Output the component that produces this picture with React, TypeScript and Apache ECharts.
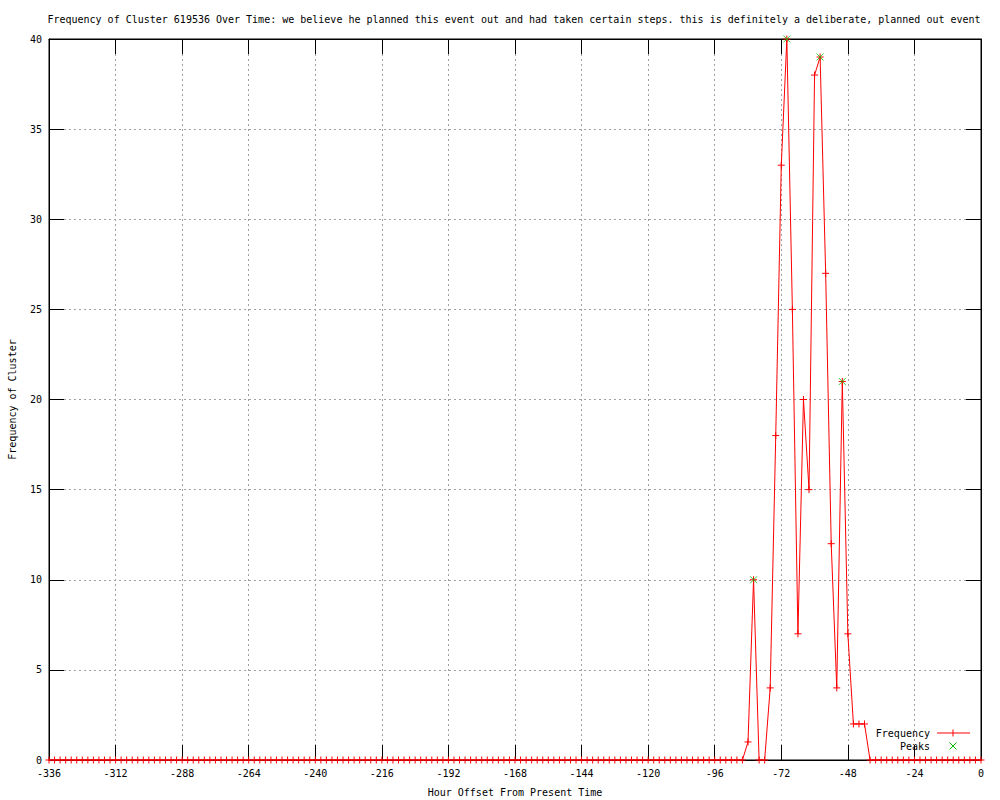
import React, { useEffect, useRef } from "react";
import * as echarts from "echarts";

const TITLE =
  "Frequency of Cluster 619536 Over Time: we believe he planned this event out and had taken certain steps. this is definitely a deliberate, planned out event";
const X_LABEL = "Hour Offset From Present Time";
const Y_LABEL = "Frequency of Cluster";
const LEGEND_FREQ = "Frequency";
const LEGEND_PEAKS = "Peaks";

const hours = [
  -336, -334, -332, -330, -328, -326, -324, -322, -320, -318, -316, -314,
  -312, -310, -308, -306, -304, -302, -300, -298, -296, -294, -292, -290,
  -288, -286, -284, -282, -280, -278, -276, -274, -272, -270, -268, -266,
  -264, -262, -260, -258, -256, -254, -252, -250, -248, -246, -244, -242,
  -240, -238, -236, -234, -232, -230, -228, -226, -224, -222, -220, -218,
  -216, -214, -212, -210, -208, -206, -204, -202, -200, -198, -196, -194,
  -192, -190, -188, -186, -184, -182, -180, -178, -176, -174, -172, -170,
  -168, -166, -164, -162, -160, -158, -156, -154, -152, -150, -148, -146,
  -144, -142, -140, -138, -136, -134, -132, -130, -128, -126, -124, -122,
  -120, -118, -116, -114, -112, -110, -108, -106, -104, -102, -100, -98,
  -96, -94, -92, -90, -88, -86, -84, -82, -80, -78, -76, -74,
  -72, -70, -68, -66, -64, -62, -60, -58, -56, -54, -52, -50,
  -48, -46, -44, -42, -40, -38, -36, -34, -32, -30, -28, -26,
  -24, -22, -20, -18, -16, -14, -12, -10, -8, -6, -4, -2,
  0,
];

const frequency = [
  0, 0, 0, 0, 0, 0, 0, 0, 0, 0, 0, 0,
  0, 0, 0, 0, 0, 0, 0, 0, 0, 0, 0, 0,
  0, 0, 0, 0, 0, 0, 0, 0, 0, 0, 0, 0,
  0, 0, 0, 0, 0, 0, 0, 0, 0, 0, 0, 0,
  0, 0, 0, 0, 0, 0, 0, 0, 0, 0, 0, 0,
  0, 0, 0, 0, 0, 0, 0, 0, 0, 0, 0, 0,
  0, 0, 0, 0, 0, 0, 0, 0, 0, 0, 0, 0,
  0, 0, 0, 0, 0, 0, 0, 0, 0, 0, 0, 0,
  0, 0, 0, 0, 0, 0, 0, 0, 0, 0, 0, 0,
  0, 0, 0, 0, 0, 0, 0, 0, 0, 0, 0, 0,
  0, 0, 0, 0, 0, 0, 1, 10, 0, 0, 4, 18,
  33, 40, 25, 7, 20, 15, 38, 39, 27, 12, 4, 21,
  7, 2, 2, 2, 0, 0, 0, 0, 0, 0, 0, 0,
  0, 0, 0, 0, 0, 0, 0, 0, 0, 0, 0, 0,
  0,
];

const peakHours = [-82, -70, -58, -50];
const peakValues = [10, 40, 39, 21];

const xTicks = [-336, -312, -288, -264, -240, -216, -192, -168, -144, -120, -96, -72, -48, -24, 0];
const yTicks = [0, 5, 10, 15, 20, 25, 30, 35, 40];

const FONT = "DejaVu Sans Mono";
const RED = "#ff0000";
const GREEN = "#00c000";
const PLUS = "path://M0 3.5L7 3.5M3.5 0L3.5 7";
const CROSS = "path://M0 0L7 7M7 0L0 7";

export default function App() {
  const ref = useRef<HTMLDivElement>(null);

  useEffect(() => {
    if (!ref.current) return;
    const chart = echarts.init(ref.current, undefined, { renderer: "svg" });

    const freqData = hours.map((h, i) => [h, frequency[i]]);
    const peakData = peakHours.map((h, i) => [h, peakValues[i]]);

    const xStep = xTicks[1] - xTicks[0];
    const yStep = yTicks[1] - yTicks[0];

    const labelStyle = { color: "#000", fontFamily: FONT, fontSize: 10 };
    const grid = {
      left: 49,
      top: 39,
      width: 932,
      height: 721,
      containLabel: false,
      outerBoundsMode: "none",
      show: true,
      borderColor: "#000",
      borderWidth: 1,
      backgroundColor: "transparent",
    };

    const splitLine = { show: true, lineStyle: { color: "#a0a0a0", type: [2, 3] as any, width: 1 } };

    chart.setOption({
      animation: false,
      backgroundColor: "#ffffff",
      grid,
      graphic: [
        {
          type: "text",
          x: 514,
          y: 19,
          style: { text: TITLE, fill: "#000", font: `10px ${FONT}`, textAlign: "center", textVerticalAlign: "middle" },
        },
        {
          type: "text",
          x: 930,
          y: 733,
          style: { text: LEGEND_FREQ, fill: "#000", font: `10px ${FONT}`, textAlign: "right", textVerticalAlign: "middle" },
        },
        {
          type: "line",
          shape: { x1: 937, y1: 733, x2: 970, y2: 733 },
          style: { stroke: RED, lineWidth: 1 },
        },
        {
          type: "line",
          shape: { x1: 953, y1: 729.5, x2: 953, y2: 736.5 },
          style: { stroke: RED, lineWidth: 1 },
        },
        {
          type: "text",
          x: 930,
          y: 746,
          style: { text: LEGEND_PEAKS, fill: "#000", font: `10px ${FONT}`, textAlign: "right", textVerticalAlign: "middle" },
        },
        {
          type: "line",
          shape: { x1: 949.5, y1: 742.5, x2: 956.5, y2: 749.5 },
          style: { stroke: GREEN, lineWidth: 1 },
        },
        {
          type: "line",
          shape: { x1: 956.5, y1: 742.5, x2: 949.5, y2: 749.5 },
          style: { stroke: GREEN, lineWidth: 1 },
        },
      ],
      xAxis: [
        {
          type: "value",
          min: xTicks[0],
          max: xTicks[xTicks.length - 1],
          interval: xStep,
          position: "bottom",
          name: X_LABEL,
          nameLocation: "middle",
          nameGap: 27,
          nameTextStyle: { color: "#000", fontFamily: FONT, fontSize: 10 },
          axisLine: { show: true, onZero: false, lineStyle: { color: "#000", width: 1 } },
          axisTick: { show: true, inside: true, length: 15, lineStyle: { color: "#000", width: 1 } },
          axisLabel: { ...labelStyle, margin: 8, showMinLabel: true, showMaxLabel: true },
          splitLine,
        },
        {
          type: "value",
          min: xTicks[0],
          max: xTicks[xTicks.length - 1],
          interval: xStep,
          position: "top",
          axisLine: { show: true, onZero: false, lineStyle: { color: "#000", width: 1 } },
          axisTick: { show: true, inside: true, length: 15, lineStyle: { color: "#000", width: 1 } },
          axisLabel: { show: false },
          splitLine: { show: false },
        },
      ],
      yAxis: [
        {
          type: "value",
          min: yTicks[0],
          max: yTicks[yTicks.length - 1],
          interval: yStep,
          position: "left",
          name: Y_LABEL,
          nameLocation: "middle",
          nameGap: 32,
          nameRotate: 90,
          nameTextStyle: { color: "#000", fontFamily: FONT, fontSize: 10 },
          axisLine: { show: true, onZero: false, lineStyle: { color: "#000", width: 1 } },
          axisTick: { show: true, inside: true, length: 15, lineStyle: { color: "#000", width: 1 } },
          axisLabel: { ...labelStyle, margin: 7, showMinLabel: true, showMaxLabel: true },
          splitLine,
        },
        {
          type: "value",
          min: yTicks[0],
          max: yTicks[yTicks.length - 1],
          interval: yStep,
          position: "right",
          axisLine: { show: true, onZero: false, lineStyle: { color: "#000", width: 1 } },
          axisTick: { show: true, inside: true, length: 15, lineStyle: { color: "#000", width: 1 } },
          axisLabel: { show: false },
          splitLine: { show: false },
        },
      ],
      series: [
        {
          name: LEGEND_FREQ,
          type: "line",
          xAxisIndex: 0,
          yAxisIndex: 0,
          data: freqData,
          showSymbol: true,
          symbol: PLUS,
          symbolSize: 7,
          clip: false,
          lineStyle: { color: RED, width: 1 },
          itemStyle: { color: RED, borderColor: RED, borderWidth: 1 },
          emphasis: { disabled: true },
          z: 3,
        },
        {
          name: LEGEND_PEAKS,
          type: "scatter",
          xAxisIndex: 0,
          yAxisIndex: 0,
          data: peakData,
          symbol: CROSS,
          symbolSize: 7,
          clip: false,
          itemStyle: { color: GREEN, borderColor: GREEN, borderWidth: 1 },
          emphasis: { disabled: true },
          z: 4,
        },
      ],
    });

    return () => chart.dispose();
  }, []);

  return <div ref={ref} style={{ width: 1000, height: 800, position: "absolute", left: 0, top: 0 }} />;
}
